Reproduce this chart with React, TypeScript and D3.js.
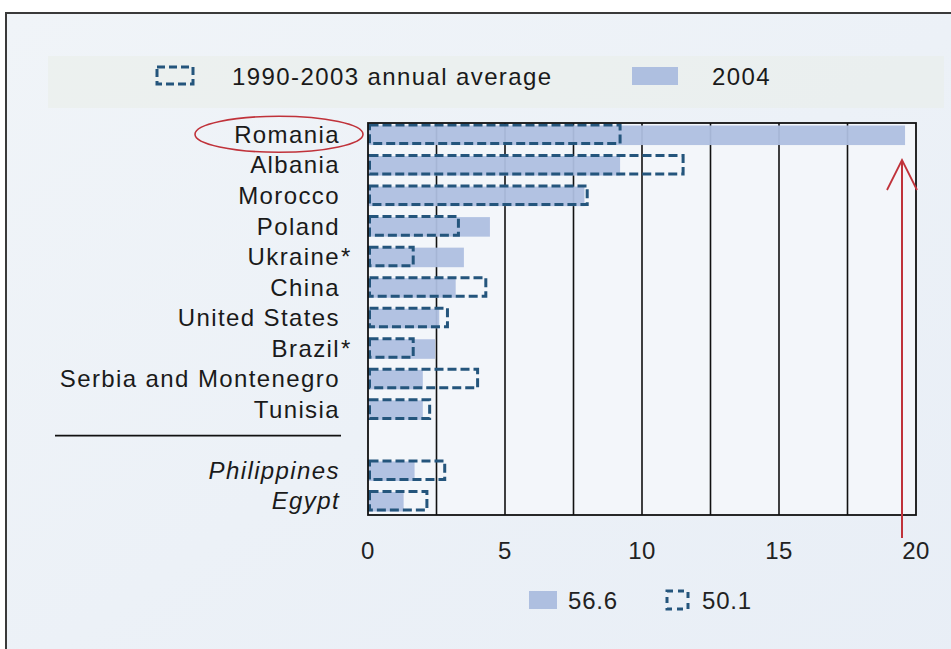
import React from "react";
import * as d3 from "d3";

const categories = [
  "Romania",
  "Albania",
  "Morocco",
  "Poland",
  "Ukraine",
  "China",
  "United States",
  "Brazil",
  "Serbia and Montenegro",
  "Tunisia",
  "Philippines",
  "Egypt",
];
const labelSuffix = ["", "", "", "", "*", "", "", "*", "", "", "", ""];
const italicRows = ["Philippines", "Egypt"];
const gapAfter = "Tunisia";
const values2004 = [19.6, 9.2, 7.9, 4.45, 3.5, 3.2, 2.6, 2.45, 2.0, 2.0, 1.7, 1.3];
const valuesAvg = [9.2, 11.5, 8.0, 3.3, 1.65, 4.3, 2.9, 1.65, 4.0, 2.25, 2.8, 2.15];
const xTicks = [0, 5, 10, 15, 20];
const gridValues = [2.5, 5, 7.5, 10, 12.5, 15, 17.5];
const legendLabels = ["1990-2003 annual average", "2004"];
const totalLabels = ["56.6", "50.1"];

const FONT = "'Liberation Sans', Arial, sans-serif";
const FILL = "#aebfe0";
const DASH = "#24557c";
const FS = 24;
const LS = 1.4;

export default function App() {
  const W = 951;
  const H = 649;
  const plot = { left: 368, right: 916, top: 123, bottom: 515 };

  const slots: string[] = [];
  categories.forEach((c) => {
    slots.push(c);
    if (c === gapAfter) slots.push("__gap__");
  });

  const x = d3.scaleLinear().domain([0, 20]).range([plot.left, plot.right]);
  const y = d3.scaleBand<string>().domain(slots).range([119, 516]).paddingInner(0.36).paddingOuter(0.18);
  const bh = y.bandwidth();
  const rowCenter = (c: string) => (y(c) as number) + bh / 2;

  const sepY = (rowCenter("Tunisia") + rowCenter("Philippines")) / 2 - 4;

  return (
    <svg
      width={W}
      height={H}
      style={{ position: "fixed", left: 0, top: 0, display: "block" }}
      fontFamily={FONT}
    >
      <defs>
        <linearGradient id="bg" x1="0" y1="0" x2="1" y2="1">
          <stop offset="0" stopColor="#f0f4f8" />
          <stop offset="1" stopColor="#e8eef6" />
        </linearGradient>
      </defs>
      <rect x={0} y={0} width={W} height={H} fill="#ffffff" />
      <rect x={6} y={13} width={W + 20} height={H + 20} fill="url(#bg)" stroke="#3a3a3a" strokeWidth={2} />
      {/* legend band */}
      <rect x={48} y={56} width={896} height={52} fill="#e9eeea" opacity={0.6} />

      {/* top legend */}
      <rect x={157} y={67} width={36} height={17} fill="none" stroke={DASH} strokeWidth={3} strokeDasharray="8 4" />
      <text x={232} y={85} fontSize={FS} letterSpacing={LS} fill="#1a1a1a">
        {legendLabels[0]}
      </text>
      <rect x={632} y={67} width={46} height={18} fill={FILL} />
      <text x={712} y={85} fontSize={FS} letterSpacing={LS} fill="#1a1a1a">
        {legendLabels[1]}
      </text>

      {/* plot background */}
      <rect x={plot.left} y={plot.top} width={plot.right - plot.left} height={plot.bottom - plot.top} fill="#f3f6fa" />

      {/* grid */}
      {gridValues.map((g) => (
        <line key={g} x1={x(g)} x2={x(g)} y1={plot.top} y2={plot.bottom} stroke="#111" strokeWidth={1.6} />
      ))}

      {/* filled 2004 bars */}
      {categories.map((c, i) => (
        <rect
          key={"f" + c}
          x={x(0)}
          y={(y(c) as number) + 1}
          width={x(values2004[i]) - x(0)}
          height={bh}
          fill={FILL}
          opacity={0.95}
        />
      ))}

      {/* dashed average bars */}
      {categories.map((c, i) => (
        <rect
          key={"d" + c}
          x={x(0) + 1.5}
          y={(y(c) as number) + 0.5}
          width={x(valuesAvg[i]) - x(0) - 1.5}
          height={bh - 1}
          fill="none"
          stroke={DASH}
          strokeWidth={3}
          strokeDasharray="9 4"
        />
      ))}

      {/* frame */}
      <rect
        x={plot.left}
        y={plot.top}
        width={plot.right - plot.left}
        height={plot.bottom - plot.top}
        fill="none"
        stroke="#111"
        strokeWidth={1.8}
      />

      {/* category labels */}
      {categories.map((c, i) => (
        <g key={"l" + c}>
          <text
            x={340}
            y={rowCenter(c)}
            dy="0.36em"
            textAnchor="end"
            fontSize={FS}
            letterSpacing={LS}
            fontStyle={italicRows.includes(c) ? "italic" : "normal"}
            fill="#1a1a1a"
          >
            {c}
          </text>
          {labelSuffix[i] && (
            <text x={341} y={rowCenter(c)} dy="0.36em" fontSize={FS} fill="#1a1a1a">
              {labelSuffix[i]}
            </text>
          )}
        </g>
      ))}

      {/* separator */}
      <line x1={55} x2={341} y1={sepY} y2={sepY} stroke="#111" strokeWidth={1.8} />

      {/* x tick labels */}
      {xTicks.map((t) => (
        <text key={"t" + t} x={x(t)} y={550} dy="0.36em" textAnchor="middle" fontSize={FS} letterSpacing={0.5} fill="#222">
          {t}
        </text>
      ))}

      {/* totals legend */}
      <rect x={529} y={591} width={28} height={18} fill={FILL} />
      <text x={568} y={600} dy="0.36em" fontSize={FS} letterSpacing={0.8} fill="#222">
        {totalLabels[0]}
      </text>
      <rect x={667} y={591} width={21} height={18} fill="none" stroke={DASH} strokeWidth={3} strokeDasharray="6 5" />
      <text x={702} y={600} dy="0.36em" fontSize={FS} letterSpacing={0.8} fill="#222">
        {totalLabels[1]}
      </text>

      {/* red annotations */}
      <ellipse cx={279} cy={rowCenter("Romania")} rx={84} ry={18} fill="none" stroke="#c0323a" strokeWidth={1.6} />
      <line x1={902} x2={902} y1={538} y2={160} stroke="#c0323a" strokeWidth={2} />
      <polyline points="887,190 902,160 917,190" fill="none" stroke="#c0323a" strokeWidth={1.8} />
    </svg>
  );
}
